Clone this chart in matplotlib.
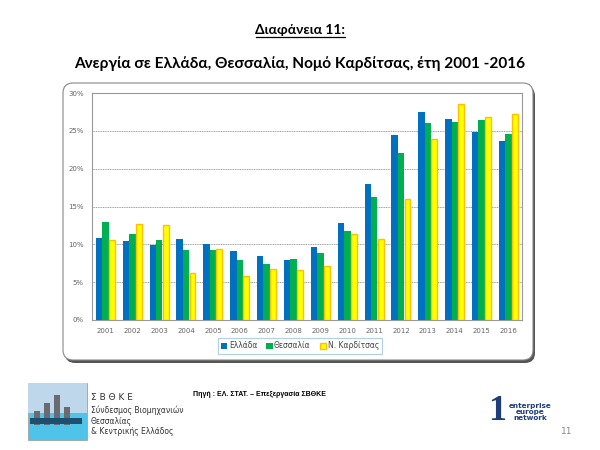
import numpy as np
import matplotlib.pyplot as plt
from matplotlib.patches import FancyBboxPatch, Rectangle

# Δεδομένα ανεργίας (%)
years = ['2001', '2002', '2003', '2004', '2005', '2006', '2007', '2008',
         '2009', '2010', '2011', '2012', '2013', '2014', '2015', '2016']
ellada = [10.8, 10.5, 9.9, 10.7, 10.1, 9.1, 8.5, 7.9, 9.7, 12.8, 18.0, 24.5, 27.5, 26.6, 24.9, 23.6]
thessalia = [13.0, 11.3, 10.6, 9.3, 9.3, 7.9, 7.4, 8.0, 8.8, 11.7, 16.3, 22.1, 26.0, 26.2, 26.4, 24.6]
karditsa = [10.6, 12.7, 12.5, 6.2, 9.4, 5.8, 6.7, 6.6, 7.2, 11.4, 10.7, 16.0, 23.9, 28.5, 26.8, 27.2]
series_names = ['Ελλάδα', 'Θεσσαλία', 'Ν. Καρδίτσας']
y_ticks = [0, 5, 10, 15, 20, 25, 30]

fig = plt.figure(figsize=(6, 4.5), dpi=100)

# επίπεδο διακόσμησης σε συντεταγμένες pixel
bg = fig.add_axes([0, 0, 1, 1])
bg.set_xlim(0, 600)
bg.set_ylim(450, 0)
bg.axis('off')

bg.text(300, 30, 'Διαφάνεια 11:', ha='center', va='center', fontsize=10,
        fontweight='bold', family='Lato')
bg.plot([256, 345], [37, 37], color='black', lw=0.9)
bg.text(300, 64, 'Ανεργία σε Ελλάδα, Θεσσαλία, Νομό Καρδίτσας, έτη 2001 -2016',
        ha='center', va='center', fontsize=11.1, fontweight='bold', family='Lato')

# πλαίσιο γραφήματος με σκιά
shadow = FancyBboxPatch((65, 86), 470, 277, boxstyle='round,pad=0,rounding_size=10',
                        fc='#555555', ec='none', zorder=1)
bg.add_patch(shadow)
box = FancyBboxPatch((63, 83), 470, 277, boxstyle='round,pad=0,rounding_size=10',
                     fc='white', ec='#888888', lw=0.8, zorder=2)
bg.add_patch(box)

# λογότυπο ΣΒΘΚΕ (απλοποιημένο)
bg.add_patch(Rectangle((28, 383), 59, 57, fc='#4FC3E8', ec='#999999', lw=0.5))
bg.add_patch(Rectangle((28, 383), 59, 30, fc='#BFD7EA', ec='none'))
for x0, h in [(34, 14), (44, 22), (54, 30), (64, 18)]:
    bg.add_patch(Rectangle((x0, 425 - h), 6, h, fc='#6A6A72', ec='none'))
bg.add_patch(Rectangle((30, 418), 52, 6, fc='#1F4F6E', ec='none'))
bg.text(91, 398, 'Σ Β Θ Κ Ε', fontsize=6.5, color='#333333', va='center')
bg.text(91, 410, 'Σύνδεσμος Βιομηχανιών', fontsize=5.5, color='#333333', va='center')
bg.text(91, 421, 'Θεσσαλίας', fontsize=5.5, color='#333333', va='center')
bg.text(91, 432, '& Κεντρικής Ελλάδος', fontsize=5.5, color='#333333', va='center')

bg.text(193, 395, 'Πηγή : ΕΛ. ΣΤΑΤ. – Επεξεργασία ΣΒΘΚΕ', fontsize=5, fontweight='bold',
        va='center', family='Liberation Sans')

# λογότυπο enterprise europe network (απλοποιημένο)
bg.text(497, 412, '1', fontsize=26, color='#1F3D7A', ha='center', va='center',
        fontweight='bold', family='Liberation Serif')
bg.text(530, 412, 'enterprise\neurope\nnetwork', fontsize=5.2, color='#1F3D7A',
        ha='center', va='center', linespacing=0.95, fontweight='bold')
bg.text(567, 431, '11', fontsize=6.5, color='#888888', ha='center', va='center')

# γράφημα
ax = fig.add_axes([92 / 600, 1 - 320 / 450, 430 / 600, 227 / 450])
ax.set_zorder(3)
x = np.arange(len(years))
w = 0.24
ax.bar(x - w, ellada, w, color='#0070C0', label=series_names[0], zorder=3)
ax.bar(x, thessalia, w, color='#00B050', label=series_names[1], zorder=3)
ax.bar(x + w, karditsa, w * 0.9, color='#FFFF00', edgecolor='#FFC000', lw=1.0,
       label=series_names[2], zorder=3)

ax.set_xlim(-0.5, len(years) - 0.5)
ax.set_ylim(0, 30)
ax.set_yticks(y_ticks)
ax.set_yticklabels([f'{t}%' for t in y_ticks])
ax.set_xticks(x)
ax.set_xticklabels(years)
ax.tick_params(axis='both', length=0, labelsize=5, labelcolor='#666666', pad=6)
ax.yaxis.grid(True, color='#777777', ls=(0, (1.5, 1)), lw=0.5, zorder=0)
for s in ax.spines.values():
    s.set_color('#999999')
    s.set_linewidth(0.8)

leg = fig.legend(loc='center', bbox_to_anchor=(300 / 600, 1 - 346 / 450), ncol=3,
                 fontsize=5.5, frameon=True, fancybox=False, handlelength=0.8,
                 handleheight=0.8, handletextpad=0.2, columnspacing=1.2,
                 borderpad=0.4)
leg.get_frame().set_edgecolor('#9DC3E6')
leg.get_frame().set_linewidth(0.8)
leg.set_zorder(5)
for t in leg.get_texts():
    t.set_color('#444444')

fig.savefig('out.png', dpi=100)
